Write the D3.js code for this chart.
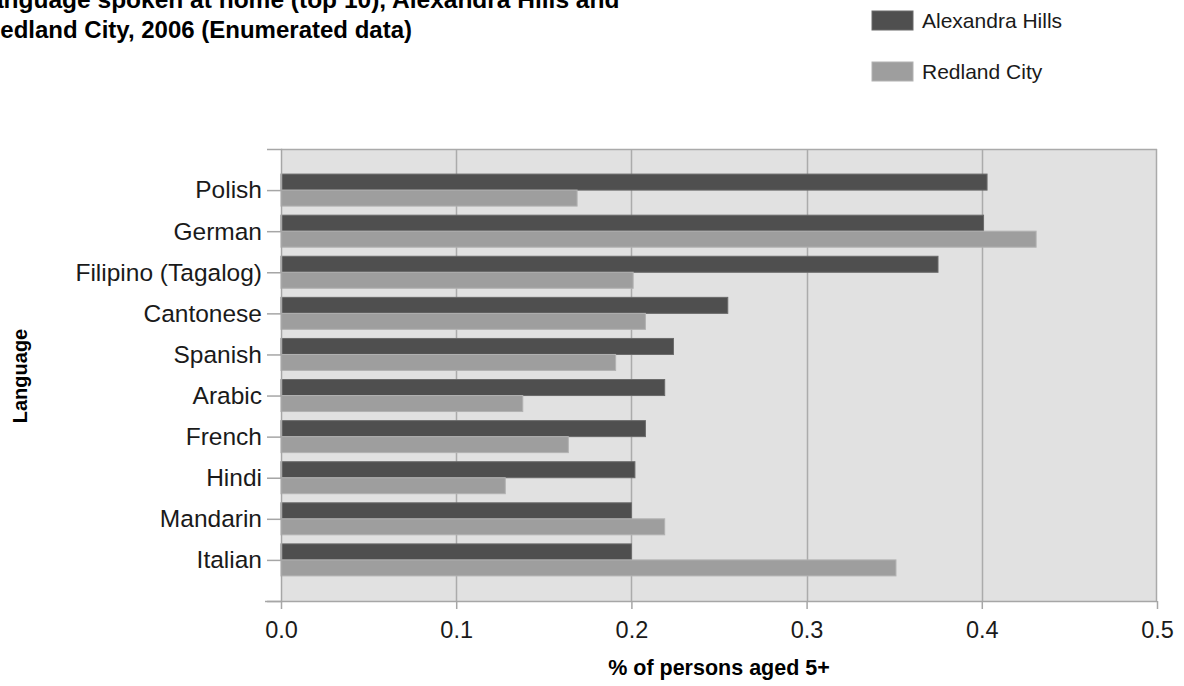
<!DOCTYPE html>
<html>
<head>
<meta charset="utf-8">
<script src="https://cdn.jsdelivr.net/npm/d3@7"></script>
<style>
  html, body { margin: 0; padding: 0; background: #fff; }
  svg { display: block; font-family: "Liberation Sans", Arial, sans-serif; }
</style>
</head>
<body>
<svg id="chart" width="1184" height="686"></svg>
<script>
const categories = ["Polish", "German", "Filipino (Tagalog)", "Cantonese", "Spanish", "Arabic", "French", "Hindi", "Mandarin", "Italian"];
const alexandraHills = [0.403, 0.401, 0.375, 0.255, 0.224, 0.219, 0.208, 0.202, 0.200, 0.200];
const redlandCity = [0.169, 0.431, 0.201, 0.208, 0.191, 0.138, 0.164, 0.128, 0.219, 0.351];
const seriesNames = ["Alexandra Hills", "Redland City"];
const xTickValues = [0, 0.1, 0.2, 0.3, 0.4, 0.5];

const colors = ["#4f4f4f", "#9e9e9e"];
const strokes = ["#6a6a6a", "#b2b2b2"];

const svg = d3.select("#chart");
const margin = { left: 281, right: 27, top: 149, bottom: 85 };
const W = 1184, H = 686;

const x = d3.scaleLinear().domain([0, 0.5]).range([margin.left, W - margin.right]);
const y = d3.scalePoint().domain(categories).range([margin.top, H - margin.bottom]).padding(1);
const barH = 16;

// plot background
svg.append("rect")
  .attr("x", x(0)).attr("y", margin.top)
  .attr("width", x(0.5) - x(0)).attr("height", (H - margin.bottom) - margin.top)
  .attr("fill", "#e1e1e1");

// vertical gridlines
svg.append("g").selectAll("line").data(xTickValues.slice(1, -1)).join("line")
  .attr("x1", d => Math.round(x(d)) + 0.5).attr("x2", d => Math.round(x(d)) + 0.5)
  .attr("y1", margin.top).attr("y2", H - margin.bottom)
  .attr("stroke", "#ababab").attr("stroke-width", 1.5);

// borders top & right
svg.append("line")
  .attr("x1", x(0)).attr("x2", x(0.5)).attr("y1", margin.top + 0.5).attr("y2", margin.top + 0.5)
  .attr("stroke", "#aaaaaa").attr("stroke-width", 1.5);
svg.append("line")
  .attr("x1", x(0.5) - 0.5).attr("x2", x(0.5) - 0.5).attr("y1", margin.top).attr("y2", H - margin.bottom)
  .attr("stroke", "#aaaaaa").attr("stroke-width", 1.5);

// bars
const series = [alexandraHills, redlandCity];
series.forEach((vals, si) => {
  svg.append("g").selectAll("rect").data(categories).join("rect")
    .attr("x", x(0))
    .attr("y", c => y(c) - barH + si * barH)
    .attr("width", (c, i) => x(vals[i]) - x(0))
    .attr("height", barH)
    .attr("fill", colors[si])
    .attr("stroke", strokes[si])
    .attr("stroke-width", 1);
});

// y axis
const yAxis = svg.append("g").attr("transform", `translate(${x(0)},0)`)
  .call(d3.axisLeft(y).tickSize(14).tickSizeOuter(14).tickPadding(5));
yAxis.selectAll("path, line").attr("stroke", "#a6a6a6").attr("stroke-width", 1.5);
yAxis.selectAll("text").attr("font-size", 24.5).attr("fill", "#1a1a1a")
  .attr("font-family", "'Liberation Sans', Arial, sans-serif");

// x axis
const xAxis = svg.append("g").attr("transform", `translate(0,${H - margin.bottom})`)
  .call(d3.axisBottom(x).tickValues(xTickValues).tickFormat(d3.format(".1f")).tickSize(8).tickSizeOuter(0).tickPadding(12));
xAxis.select(".domain").remove();
xAxis.append("line")
  .attr("x1", x(0) - 16).attr("x2", x(0.5)).attr("y1", 0.5).attr("y2", 0.5)
  .attr("stroke", "#a6a6a6").attr("stroke-width", 1.5);
xAxis.selectAll(".tick line").attr("stroke", "#a6a6a6").attr("stroke-width", 1.5);
xAxis.selectAll("text").attr("font-size", 23.5).attr("fill", "#1a1a1a")
  .attr("font-family", "'Liberation Sans', Arial, sans-serif");

// axis titles
svg.append("text")
  .attr("x", (x(0) + x(0.5)) / 2).attr("y", 675)
  .attr("text-anchor", "middle").attr("font-size", 21.5).attr("font-weight", "bold")
  .attr("fill", "#000")
  .text("% of persons aged 5+");
svg.append("text")
  .attr("transform", "translate(27,376) rotate(-90)")
  .attr("text-anchor", "middle").attr("font-size", 20).attr("font-weight", "bold")
  .attr("fill", "#000")
  .text("Language");

// title
svg.append("text").attr("x", -25).attr("y", 8)
  .attr("font-size", 24.5).attr("font-weight", "bold").attr("fill", "#000")
  .text("Language spoken at home (top 10), Alexandra Hills and");
svg.append("text").attr("x", -17).attr("y", 38)
  .attr("font-size", 24).attr("font-weight", "bold").attr("fill", "#000")
  .text("Redland City, 2006 (Enumerated data)");

// legend
const legend = svg.append("g");
seriesNames.forEach((name, i) => {
  const gy = 11 + i * 51;
  legend.append("rect").attr("x", 872).attr("y", gy).attr("width", 41).attr("height", 19)
    .attr("fill", colors[i]).attr("stroke", strokes[i]).attr("stroke-width", 1);
  legend.append("text").attr("x", 922).attr("y", gy + 9.5)
    .attr("dominant-baseline", "central")
    .attr("font-size", 21).attr("fill", "#1a1a1a")
    .text(name);
});
</script>
</body>
</html>
